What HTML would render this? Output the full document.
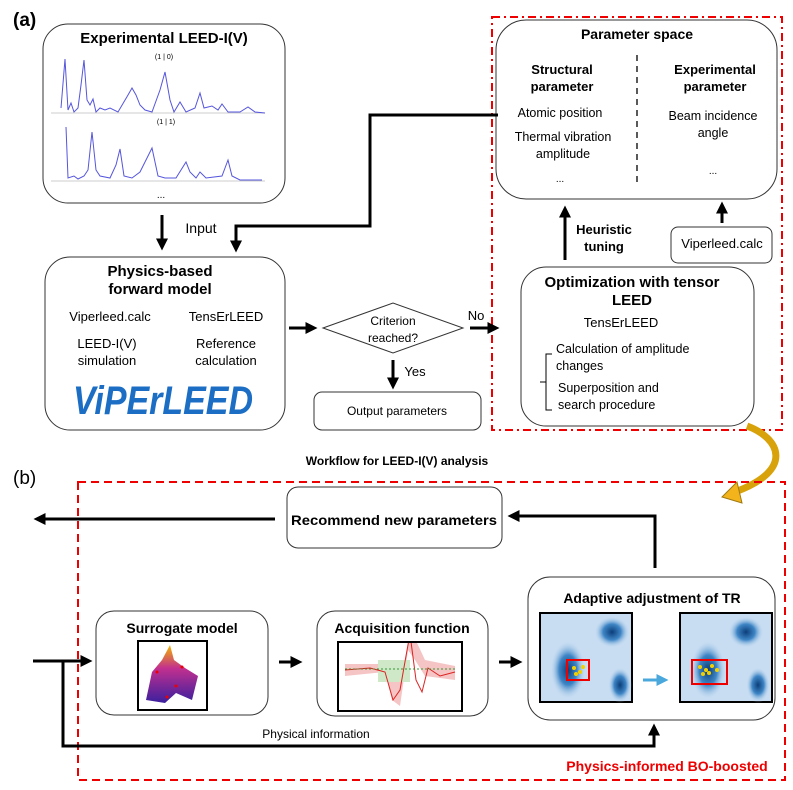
<!DOCTYPE html>
<html><head><meta charset="utf-8"><style>body{margin:0;background:#fff}svg{display:block}text{font-family:"Liberation Sans",sans-serif}</style></head><body>
<svg width="793" height="790" viewBox="0 0 793 790" xmlns="http://www.w3.org/2000/svg">
<defs>
<marker id="ah" markerWidth="4" markerHeight="4" refX="2.5" refY="2" orient="auto" markerUnits="strokeWidth"><path d="M0,0 L4,2 L0,4 z" fill="#000"/></marker>
<marker id="ab" markerWidth="4" markerHeight="4" refX="2.5" refY="2" orient="auto" markerUnits="strokeWidth"><path d="M0,0 L4,2 L0,4 z" fill="#4aa8dc"/></marker>
<radialGradient id="blob" cx="50%" cy="50%" r="50%"><stop offset="0" stop-color="#0b3e7a"/><stop offset="0.5" stop-color="#3f86c6"/><stop offset="1" stop-color="#cfe3f5" stop-opacity="0"/></radialGradient>
<linearGradient id="surf" x1="0" y1="0" x2="0" y2="1"><stop offset="0" stop-color="#f4b400"/><stop offset="0.4" stop-color="#c2308f"/><stop offset="1" stop-color="#3a1f9e"/></linearGradient>
<clipPath id="c1"><rect x="138" y="641" width="69" height="69"/></clipPath>
<clipPath id="c2"><rect x="338" y="642" width="124" height="69"/></clipPath>
</defs>
<g fill="none" stroke="#000">
<!-- (a) -->
<rect x="43" y="24" width="242" height="179" rx="25" stroke="#333"/>
<rect x="45" y="257" width="240" height="173" rx="25" stroke="#333"/>
<rect x="314" y="392" width="167" height="38" rx="8" stroke="#333"/>
<rect x="492" y="17" width="290" height="413" stroke="#e00" stroke-width="2" stroke-dasharray="8,4,2,4"/>
<rect x="496" y="20" width="281" height="179" rx="30" stroke="#333"/>
<line x1="637" y1="55" x2="637" y2="187" stroke-dasharray="6,5" stroke-width="1.3"/>
<rect x="671" y="227" width="101" height="36" rx="7" stroke="#333"/>
<rect x="521" y="267" width="233" height="159" rx="25" stroke="#333"/>
<path d="M552,354 H546 V410 H552 M546,382 H540" stroke-width="1"/>
<polygon points="323,328 393,303 463,328 393,353" stroke="#333"/>
<g stroke-width="3">
<line x1="162" y1="215" x2="162" y2="246" marker-end="url(#ah)"/>
<polyline points="498,115 370,115 370,226 236,226 236,248" marker-end="url(#ah)"/>
<line x1="289" y1="328" x2="313" y2="328" marker-end="url(#ah)"/>
<line x1="470" y1="328" x2="495" y2="328" marker-end="url(#ah)"/>
<line x1="393" y1="360" x2="393" y2="385" marker-end="url(#ah)"/>
<line x1="565" y1="260" x2="565" y2="210" marker-end="url(#ah)"/>
<line x1="722" y1="223" x2="722" y2="206" marker-end="url(#ah)"/>
</g>
<line x1="51" y1="113" x2="265" y2="113" stroke="#ccc"/>
<line x1="51" y1="181" x2="265" y2="181" stroke="#ccc"/>
<polyline stroke="#5555dd" stroke-width="1" points="61,108 65,59 68,110 71,103 74,112 78,108 81,85 84,60 87,100 90,105 93,99 96,112 100,108 105,110 110,108 118,112 128,95 132,88 136,95 140,105 145,110 152,112 160,90 165,72 170,100 174,112 180,102 186,112 195,108 200,93 204,108 212,106 218,110 222,104 228,112 240,112 248,107 255,112 265,113"/>
<polyline stroke="#5555dd" stroke-width="1" points="66,127 68,178 74,176 78,179 84,176 88,170 92,132 96,170 100,176 110,178 116,165 120,149 124,176 132,178 140,172 152,148 158,176 165,178 176,178 186,162 190,172 196,178 200,172 206,178 222,176 228,160 232,176 240,180 262,180"/>
<!-- gold arrow -->
<path d="M747,426 C780,438 795,470 735,492" stroke="#d8a20a" stroke-width="7"/>
<polygon points="722,497 737,482 742,503" fill="#f2b31b" stroke="#a07a10" stroke-width="1"/>
<!-- (b) -->
<rect x="78" y="482" width="707" height="298" stroke="#e00" stroke-width="2" stroke-dasharray="8,5"/>
<rect x="287" y="487" width="215" height="61" rx="11" stroke="#333"/>
<rect x="96" y="611" width="172" height="104" rx="18" stroke="#333"/>
<rect x="317" y="611" width="171" height="105" rx="18" stroke="#333"/>
<rect x="528" y="577" width="247" height="143" rx="22" stroke="#333"/>
<g stroke-width="3">
<line x1="275" y1="519" x2="38" y2="519" marker-end="url(#ah)"/>
<polyline points="655,568 655,516 512,516" marker-end="url(#ah)"/>
<line x1="33" y1="661" x2="88" y2="661" marker-end="url(#ah)"/>
<polyline points="63,661 63,746 654,746 654,728" marker-end="url(#ah)"/>
<line x1="279" y1="662" x2="298" y2="662" marker-end="url(#ah)"/>
<line x1="499" y1="662" x2="518" y2="662" marker-end="url(#ah)"/>
<line x1="643" y1="680" x2="664" y2="680" stroke="#4aa8dc" marker-end="url(#ab)"/>
</g>
<!-- images -->
<g clip-path="url(#c1)">
<polygon points="146,700 152,672 162,660 170,645 174,660 185,668 198,676 192,700 176,693 165,703" fill="url(#surf)" stroke="none"/>
<g fill="#e00" stroke="none"><circle cx="157" cy="672" r="1.5"/><circle cx="176" cy="686" r="1.5"/><circle cx="182" cy="667" r="1.5"/><circle cx="167" cy="697" r="1.5"/></g>
</g>
<rect x="138" y="641" width="69" height="69" stroke-width="2"/>
<g clip-path="url(#c2)">
<path d="M345,676 L385,672 L392,700 L400,706 L408,650 L415,660 L425,676 L455,680 L455,666 L425,660 L410,628 L405,660 L395,660 L385,664 L345,664z" fill="#f5c4c4" stroke="none"/>
<rect x="378" y="660" width="32" height="22" fill="#cfe8c8" stroke="none"/>
<polyline points="345,670 370,668 385,672 393,700 400,690 406,656 410,634 416,680 422,692 428,668 440,676 455,672" stroke="#d22" stroke-width="1"/>
<line x1="345" y1="669" x2="455" y2="669" stroke="#393" stroke-dasharray="2,2"/>
</g>
<rect x="338" y="642" width="124" height="69" stroke-width="2"/>
<rect x="540" y="613" width="92" height="89" fill="#c8ddf2" stroke-width="2"/>
<ellipse cx="612" cy="632" rx="18" ry="16" fill="url(#blob)" stroke="none"/>
<ellipse cx="568" cy="670" rx="18" ry="30" fill="url(#blob)" stroke="none"/>
<ellipse cx="620" cy="685" rx="12" ry="18" fill="url(#blob)" stroke="none"/>
<rect x="567" y="660" width="22" height="20" stroke="#e00" stroke-width="2"/>
<rect x="680" y="613" width="92" height="89" fill="#c8ddf2" stroke-width="2"/>
<ellipse cx="746" cy="632" rx="18" ry="16" fill="url(#blob)" stroke="none"/>
<ellipse cx="708" cy="670" rx="18" ry="30" fill="url(#blob)" stroke="none"/>
<ellipse cx="758" cy="685" rx="12" ry="18" fill="url(#blob)" stroke="none"/>
<rect x="692" y="660" width="35" height="24" stroke="#e00" stroke-width="2"/>
</g>
<g fill="#f2d000"><circle cx="574" cy="668" r="2"/><circle cx="580" cy="672" r="2"/><circle cx="576" cy="674" r="2"/><circle cx="583" cy="667" r="2"/><circle cx="700" cy="667" r="2"/><circle cx="706" cy="670" r="2"/><circle cx="712" cy="666" r="2"/><circle cx="709" cy="673" r="2"/><circle cx="717" cy="670" r="2"/><circle cx="703" cy="674" r="2"/></g>
<g fill="#000" text-anchor="middle">
<text x="13" y="26" text-anchor="start" font-size="19" font-weight="bold">(a)</text>
<text x="13" y="484" text-anchor="start" font-size="19">(b)</text>
<text x="164" y="43" font-size="15" font-weight="bold">Experimental LEED-I(V)</text>
<text x="164" y="59" font-size="7">(1 | 0)</text>
<text x="166" y="124" font-size="7">(1 | 1)</text>
<text x="161" y="198" font-size="10">...</text>
<text x="201" y="233" font-size="14">Input</text>
<text x="160" y="276" font-size="15" font-weight="bold">Physics-based</text>
<text x="160" y="294" font-size="15" font-weight="bold">forward model</text>
<text x="110" y="321" font-size="13">Viperleed.calc</text>
<text x="226" y="321" font-size="13">TensErLEED</text>
<text x="107" y="348" font-size="13">LEED-I(V)</text>
<text x="107" y="365" font-size="13">simulation</text>
<text x="226" y="348" font-size="13">Reference</text>
<text x="226" y="365" font-size="13">calculation</text>
<text x="163" y="414" font-size="40" font-weight="bold" font-style="italic" fill="#1c6ec4" textLength="180" lengthAdjust="spacingAndGlyphs">ViPErLEED</text>
<text x="393" y="325" font-size="12">Criterion</text>
<text x="393" y="342" font-size="12">reached?</text>
<text x="476" y="320" font-size="13">No</text>
<text x="415" y="376" font-size="13">Yes</text>
<text x="397" y="415" font-size="12">Output parameters</text>
<text x="637" y="39" font-size="14" font-weight="bold">Parameter space</text>
<text x="562" y="74" font-size="13" font-weight="bold">Structural</text>
<text x="562" y="91" font-size="13" font-weight="bold">parameter</text>
<text x="560" y="117" font-size="12.5">Atomic position</text>
<text x="563" y="141" font-size="12.5">Thermal vibration</text>
<text x="563" y="158" font-size="12.5">amplitude</text>
<text x="560" y="182" font-size="10">...</text>
<text x="715" y="74" font-size="13" font-weight="bold">Experimental</text>
<text x="715" y="91" font-size="13" font-weight="bold">parameter</text>
<text x="713" y="120" font-size="12.5">Beam incidence</text>
<text x="713" y="137" font-size="12.5">angle</text>
<text x="713" y="174" font-size="10">...</text>
<text x="604" y="234" font-size="13" font-weight="bold">Heuristic</text>
<text x="604" y="251" font-size="13" font-weight="bold">tuning</text>
<text x="722" y="248" font-size="13">Viperleed.calc</text>
<text x="632" y="287" font-size="15" font-weight="bold">Optimization with tensor</text>
<text x="632" y="305" font-size="15" font-weight="bold">LEED</text>
<text x="621" y="327" font-size="13">TensErLEED</text>
<g text-anchor="start" font-size="12.5">
<text x="556" y="353">Calculation of amplitude</text>
<text x="556" y="370">changes</text>
<text x="558" y="392">Superposition and</text>
<text x="558" y="409">search procedure</text>
</g>
<text x="397" y="465" font-size="12" font-weight="bold">Workflow for LEED-I(V) analysis</text>
<text x="394" y="525" font-size="14" font-weight="bold" textLength="206" lengthAdjust="spacingAndGlyphs">Recommend new parameters</text>
<text x="182" y="633" font-size="14" font-weight="bold">Surrogate model</text>
<text x="402" y="633" font-size="14" font-weight="bold">Acquisition function</text>
<text x="652" y="603" font-size="14" font-weight="bold">Adaptive adjustment of TR</text>
<text x="316" y="738" font-size="12">Physical information</text>
<text x="667" y="771" font-size="14" font-weight="bold" fill="#e00">Physics-informed BO-boosted</text>
</g>
</svg>
</body></html>
